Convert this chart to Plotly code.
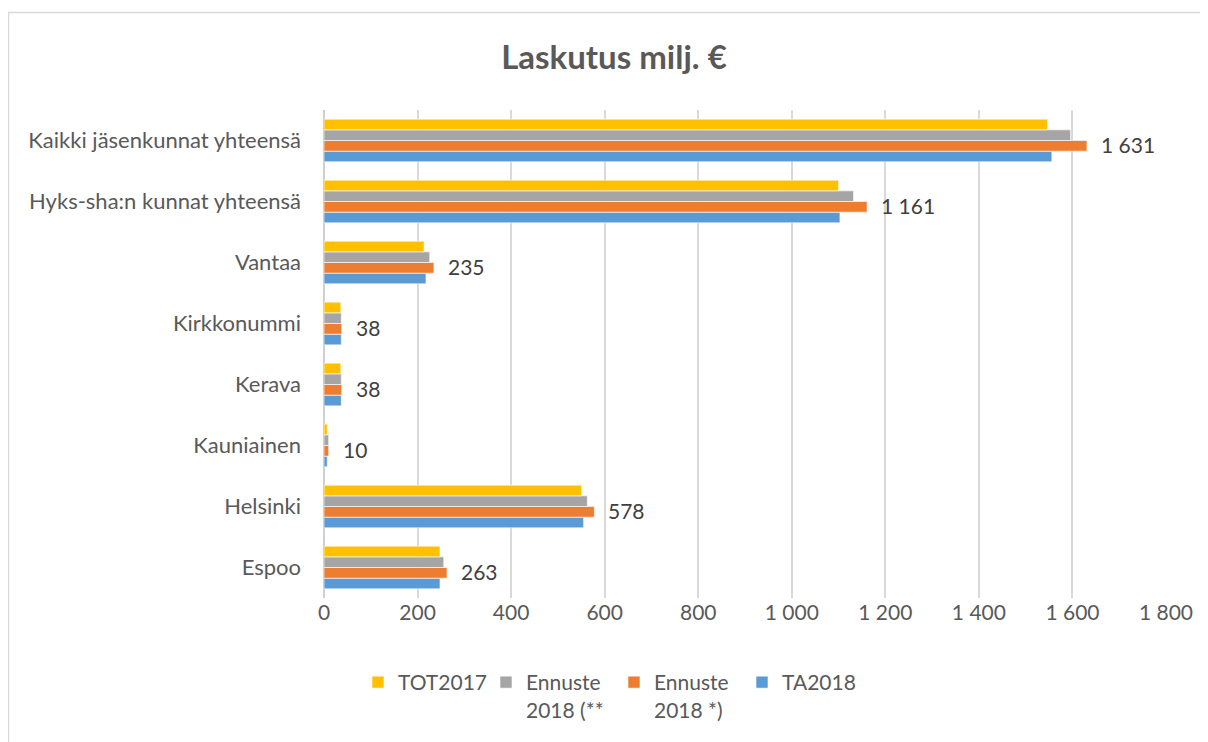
import plotly.graph_objects as go

categories = ["Espoo", "Helsinki", "Kauniainen", "Kerava", "Kirkkonummi", "Vantaa",
              "Hyks-sha:n kunnat yhteensä", "Kaikki jäsenkunnat yhteensä"]
tot2017 = [248, 551, 7, 36, 36, 214, 1100, 1547]
ennuste_2 = [256, 563, 10, 37, 37, 226, 1132, 1596]
ennuste_1 = [263, 578, 10, 38, 38, 235, 1161, 1631]
ta2018 = [248, 555, 7, 37, 37, 218, 1103, 1556]
x_ticks = [0, 200, 400, 600, 800, 1000, 1200, 1400, 1600, 1800]

FONT = "Lato"
GREY = "#595959"
OFF = 8  # page body margin

W, H = 1200, 734
ML, MT = 324 - OFF, 110 - OFF
PW, PH = 842, 488
MR, MB = W - ML - PW, H - MT - PH

fig = go.Figure()
series = [
    ("TA2018", ta2018, "#5b9bd5"),
    ("Ennuste<br>2018 *)", ennuste_1, "#ed7d31"),
    ("Ennuste<br>2018 (**", ennuste_2, "#a5a5a5"),
    ("TOT2017", tot2017, "#ffc000"),
]
for name, vals, col in series:
    fig.add_trace(go.Bar(
        y=categories, x=vals, name=name, orientation="h",
        marker=dict(color=col, line=dict(color="white", width=0.6)),
        hoverinfo="x+name",
    ))

def fmt(v):
    return f"{v:,}".replace(",", " ")

for cat, v in zip(categories, ennuste_1):
    fig.add_annotation(x=v, y=cat, text=fmt(v), showarrow=False,
                       xanchor="left", yanchor="middle", xshift=12, yshift=-4,
                       font=dict(family=FONT, size=21, color="#404040"))

# outer frame (left and top edges visible)
px = lambda x: (x - OFF - ML) / PW
py = lambda y: (MT + PH - (y - OFF)) / PH
fig.add_shape(type="path", xref="paper", yref="paper",
              path=f"M {px(8.5)},{py(742)} L {px(8.5)},{py(12.5)} L {px(1208)},{py(12.5)}",
              line=dict(color="#d9d9d9", width=1.5))

fig.update_layout(
    width=W, height=H,
    margin=dict(l=ML, r=MR, t=MT, b=MB),
    paper_bgcolor="white", plot_bgcolor="white",
    barmode="group", bargap=0.3, bargroupgap=0.0,
    title=dict(text="<b>Laskutus milj. €</b>", x=(614 - OFF) / W, xref="container", xanchor="center",
               y=1 - (57 - OFF) / H, yref="container", yanchor="middle",
               font=dict(family=FONT, size=33, color=GREY)),
    xaxis=dict(range=[0, 1800], tickvals=x_ticks, ticktext=[fmt(t) for t in x_ticks],
               showgrid=True, gridcolor="#d9d9d9", gridwidth=1.5,
               zeroline=True, zerolinecolor="#d0d0d0", zerolinewidth=2,
               tickfont=dict(family=FONT, size=21, color=GREY), ticks="", ticklen=0,
               fixedrange=True),
    yaxis=dict(tickfont=dict(family=FONT, size=22, color=GREY), ticks="",
               ticklabelstandoff=22, showline=False, fixedrange=True),
    legend=dict(orientation="h", traceorder="reversed", xref="container", x=350 / W,
                xanchor="left", yref="container", y=1 - 654 / H, yanchor="top",
                valign="top", entrywidth=83, entrywidthmode="pixels",
                font=dict(family=FONT, size=21, color=GREY), itemwidth=30),
    showlegend=True,
)

fig.write_html("out.html")
